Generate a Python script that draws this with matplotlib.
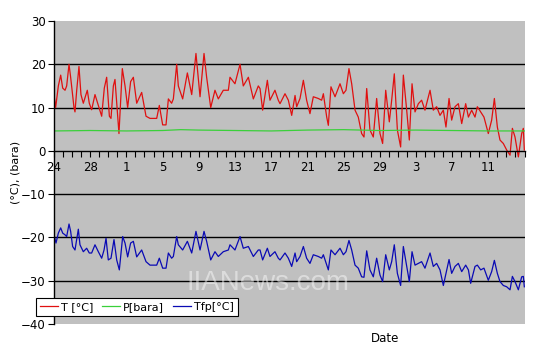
import matplotlib.pyplot as plt

# days since the 24th (first tick)
t_days = [0.0, 0.18, 0.48, 0.74, 0.96, 1.22, 1.40, 1.66, 1.84, 2.21, 2.32, 2.51, 2.76, 2.98, 3.24,
          3.68, 3.90, 4.16, 4.53, 4.90, 5.27, 5.56, 5.82, 6.12, 6.30, 6.56, 6.74, 6.93, 7.18, 7.55,
          7.85, 8.14, 8.47, 8.77, 9.14, 9.69, 10.17, 10.61, 11.35, 11.64, 12.01, 12.38, 12.64, 13.00,
          13.19, 13.56, 13.74, 14.22, 14.74, 15.22, 15.69, 16.14, 16.58, 16.87, 17.32, 17.79, 18.16,
          18.71, 19.27, 19.45, 20.00, 20.56, 20.92, 21.48, 22.03, 22.58,
          22.77, 23.06, 23.58, 23.87, 24.42, 24.79, 24.98, 25.53, 25.90, 26.27, 26.64, 26.82, 27.19,
          27.56, 27.92, 28.29, 28.66, 29.21, 29.58, 29.77, 30.14, 30.32, 30.61, 31.06, 31.61, 31.98,
          32.27, 32.60, 32.90, 33.27, 33.63, 34.00, 34.26, 34.56, 34.92, 35.29, 35.66, 36.03, 36.32,
          36.66, 37.06, 37.32, 37.61, 37.95, 38.31, 38.61, 38.98, 39.27, 39.57, 39.90, 40.27, 40.63,
          41.00, 41.56, 41.92, 42.29, 42.66, 43.03, 43.32, 43.66, 43.95, 44.32, 44.69, 45.06, 45.50,
          45.80, 46.16, 46.53, 46.79, 47.16, 47.52, 48.00, 48.37, 48.67, 49.00, 49.29, 49.66, 50.03,
          50.40, 50.66, 50.95, 51.32, 51.69, 51.87, 51.98]
t_vals = [13, 10, 15, 17.5, 14.5, 14, 15, 20, 17, 10, 9, 14, 19.5, 13, 11,
          14, 11, 9.5, 13, 10.5, 8, 14.5, 17, 8, 7.5, 15, 16.5, 11, 4, 19,
          15, 10, 16, 17, 11, 13.5, 8, 7.5, 7.5, 10.5, 6, 6, 12, 11,
          12, 20, 15, 12, 18, 13, 22.5, 12.5, 22.5, 17, 10, 14, 12,
          14, 14, 17, 15.5, 20, 15, 17, 12, 15,
          14.4, 9.4, 16.3, 11.7, 14, 11.7, 10.9, 13.2, 11.7, 8.2, 12.8, 10.2, 12.1,
          16.3, 11.7, 8.6, 12.5, 12.1, 11.7, 13.2, 7.8, 5.9, 14.8, 12.5, 15.5, 13.2,
          14, 19, 15.5, 9.4, 7.8, 4, 3.2, 14.4, 4.8, 3.2, 12.1, 4, 1.7,
          14, 6.7, 11.7, 17.8, 4.8, 0.9, 17.5, 9.4, 2.5, 15.5, 9, 10.9,
          11.7, 9.4, 14, 9.4, 10.2, 8.2, 9.4, 5.5, 12.1, 7.1, 10.2, 10.9, 6.3, 10.9,
          7.8, 9.4, 7.8, 10.2, 9, 7.8, 4, 7.1, 12.1, 5.5, 2.5, 1.7, 0.2,
          -1, 5.2, 3.2, -1.4, 4, 5.2, 0.2]

tfp_days = [0.0, 0.22, 0.48, 0.74, 0.96, 1.22, 1.40, 1.66, 1.84, 2.06, 2.32, 2.69, 2.87, 3.24, 3.61,
            3.90, 4.16, 4.53, 4.90, 5.27, 5.53, 5.75, 6.00, 6.30, 6.63, 6.93, 7.22, 7.59, 7.85, 8.14,
            8.47, 8.77, 9.14, 9.69, 10.17, 10.61, 11.35, 11.64, 12.01, 12.38, 12.64, 13.00, 13.19,
            13.56, 13.74, 14.22, 14.74, 15.22, 15.69, 16.14, 16.58, 16.87, 17.32, 17.79, 18.16,
            18.71, 19.27, 19.45, 20.00, 20.56, 20.92, 21.48, 22.03, 22.58,
            22.77, 23.06, 23.58, 23.87, 24.42, 24.79, 24.98, 25.53, 25.90, 26.27, 26.64, 26.82, 27.19,
            27.56, 27.92, 28.29, 28.66, 29.21, 29.58, 29.77, 30.14, 30.32, 30.61, 31.06, 31.61, 31.98,
            32.27, 32.60, 32.90, 33.27, 33.63, 34.00, 34.26, 34.56, 34.92, 35.29, 35.66, 36.03, 36.32,
            36.66, 37.06, 37.32, 37.61, 37.95, 38.31, 38.61, 38.98, 39.27, 39.57, 39.90, 40.27, 40.63,
            41.00, 41.56, 41.92, 42.29, 42.66, 43.03, 43.32, 43.66, 43.95, 44.32, 44.69, 45.06, 45.50,
            45.80, 46.05, 46.53, 46.79, 47.16, 47.52, 48.00, 48.37, 48.67, 49.00, 49.29, 49.66, 50.03,
            50.40, 50.66, 50.95, 51.32, 51.69, 51.87, 51.98]
tfp_vals = [-19.4, -21.3, -19, -17.8, -19, -19.4, -19.8, -16.9, -18.6, -22.1, -22.9, -18.1, -21.7, -23.3, -22.5,
            -23.6, -23.6, -21.7, -23.3, -24.8, -22.9, -20.2, -25.2, -24.8, -20.5, -25.2, -27.5, -19.8, -21.3, -24.5,
            -21.3, -20.9, -24.5, -22.9, -25.6, -26.4, -26.4, -24.8, -27.1, -27.1, -23.6, -24.8, -24.4,
            -19.8, -21.7, -22.9, -20.9, -23.6, -18.6, -22.9, -18.6, -20.9, -25.2, -23.3, -24.4,
            -23.3, -22.9, -21.7, -22.9, -19.8, -22.5, -22.1, -24.4, -22.9,
            -22.9, -25.2, -22.5, -24.4, -23.3, -24.8, -25.2, -23.6, -24.8, -26.7, -23.6, -25.6, -24.4,
            -22.1, -24.8, -26.0, -24.0, -24.4, -24.8, -24.0, -26.4, -27.5, -22.9, -24.0, -22.5, -24.0,
            -23.3, -20.7, -22.9, -26.4, -27.1, -29.1, -29.2, -23.1, -27.5, -29.1, -24.8, -28.7, -30.2,
            -24.0, -27.5, -25.6, -21.7, -28.3, -31.1, -22.1, -26.7, -30.2, -23.3, -26.4, -26.0, -25.6,
            -27.1, -23.6, -26.7, -26.0, -27.5, -31.1, -28.3, -25.1, -28.3, -26.7, -26.0, -27.9, -26.4,
            -27.5, -30.6, -26.7, -26.4, -27.5, -27.1, -29.9, -27.9, -25.3, -28.3, -30.2, -31.1, -31.4,
            -32.1, -29.0, -30.2, -32.1, -29.1, -29.0, -31.4]

p_days = [0, 4, 8, 12, 14, 16, 20, 24, 28, 32, 36, 40, 44, 48, 52]
p_vals = [4.6, 4.7, 4.6, 4.7, 4.9, 4.8, 4.7, 4.6, 4.8, 4.9, 4.7, 4.8, 4.7, 4.6, 4.6]

tick_days = [0, 4, 8, 12, 16, 20, 24, 28, 32, 36, 40, 44, 48]
tick_labels = ['24', '28', '1', '5', '9', '13', '17', '21', '25', '29', '3', '7', '11']

fig = plt.figure(figsize=(5.33, 3.48), dpi=100)
ax = fig.add_axes([54 / 533, 1 - 324 / 348, (524.5 - 54) / 533, (324 - 21) / 348])
ax.set_facecolor('#c0c0c0')

for y in [-30, -20, -10, 10, 20]:
    ax.axhline(y, color='black', lw=1, zorder=1)

ax.plot(t_days, t_vals, color='#e01010', lw=0.9, label='T [°C]', zorder=3)
ax.plot(p_days, p_vals, color='#3ad03a', lw=0.9, label='P[bara]', zorder=3)
ax.plot(tfp_days, tfp_vals, color='#0a0ab4', lw=0.9, label='Tfp[°C]', zorder=3)

ax.set_xlim(0, 52)
ax.set_ylim(-40, 30)
ax.set_yticks(range(-40, 31, 10))
ax.set_xticks(tick_days)
ax.set_xticklabels(tick_labels)
ax.set_xticks(range(0, 53), minor=True)

ax.spines['bottom'].set_position(('data', 0))
ax.spines['top'].set_visible(False)
ax.spines['right'].set_visible(False)
for s in ['left', 'bottom']:
    ax.spines[s].set_color('black')
    ax.spines[s].set_linewidth(1)
    ax.spines[s].set_zorder(4)
ax.tick_params(axis='x', which='both', length=4, width=0.8, direction='out', pad=3, labelsize=8.5)
ax.tick_params(axis='y', length=4, width=0.8, direction='out', pad=2, labelsize=8.5)

fig.text(15 / 533, 0.5 * (1 - 21 / 348 + 1 - 324 / 348), '(°C), (bara)', rotation=90,
         ha='center', va='center', fontsize=8)
fig.text(385 / 533, 1 - 338 / 348, 'Date', ha='center', va='center', fontsize=8.5)

fig.text(268 / 533, 1 - 283 / 348, 'IIANews.com', ha='center', va='center',
         fontsize=20, family='Liberation Sans', color='white', alpha=0.45, zorder=5)

leg = ax.legend(loc='lower left', bbox_to_anchor=(36 / 533, 1 - 316 / 348),
                bbox_transform=fig.transFigure, ncol=3, fontsize=8, fancybox=False,
                framealpha=1, edgecolor='black', handlelength=1.6, handletextpad=0.3,
                columnspacing=0.8, borderpad=0.35, borderaxespad=0)
leg.get_frame().set_linewidth(0.8)

fig.savefig('out.png', dpi=100)
